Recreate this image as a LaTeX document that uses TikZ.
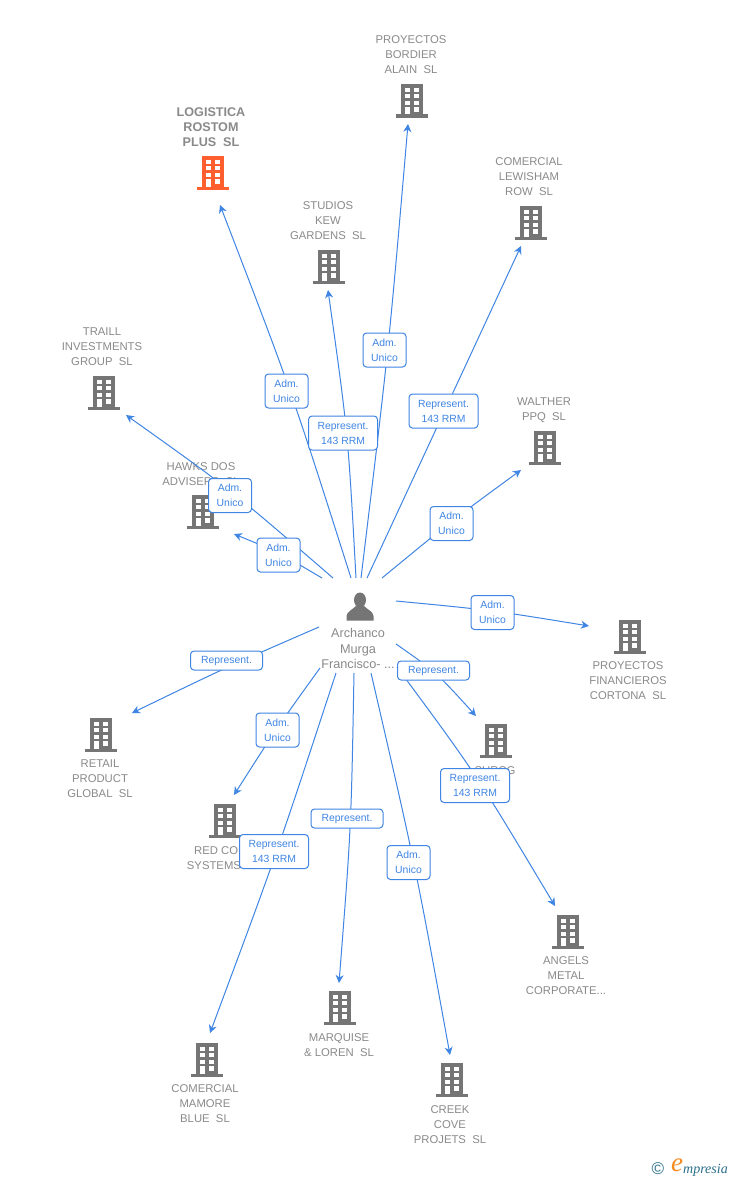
\documentclass[tikz,border=0pt]{standalone}
\usepackage{fontspec}
\setmainfont{Liberation Sans}
\newfontfamily\brandfont{Liberation Serif}
\usetikzlibrary{arrows.meta,calc}
\definecolor{lnk}{HTML}{3F85E3}
\definecolor{gry}{HTML}{757575}
\definecolor{txt}{HTML}{8A8A8A}
\definecolor{org}{HTML}{FF5F2E}
\definecolor{teal}{HTML}{2A6F8A}
\definecolor{brandorg}{HTML}{F58A1F}
\tikzset{
  x=1pt,y=-1pt,
  conn/.style={draw=lnk,line width=1pt,-{Stealth[length=8pt,width=8pt,inset=2.5pt]}},
  tagbox/.style={draw=lnk,line width=1pt,rounded corners=3.5pt,fill=white,text=lnk,font=\fontsize{10.4}{15}\selectfont,align=center,inner sep=0pt},
  tagtwo/.style={tagbox,minimum width=43pt,minimum height=34pt},
  tagrrm/.style={tagbox,minimum width=69pt,minimum height=34pt},
  tagone/.style={tagbox,minimum width=72pt,minimum height=19pt},
  bname/.style={text=txt,font=\fontsize{11.3}{15}\selectfont,align=center,inner sep=0pt},
  pics/bld/.style={code={
    \fill[#1] (-11,16) rectangle (11,-16.7);
    \fill[#1] (-16,13.5) rectangle (16,16.7);
    \foreach \yy/\hh in {-13.3/4,-7/4.3,-0.3/4.3}{
      \fill[white] (-7.5,\yy) rectangle (-2.5,\yy+\hh);
      \fill[white] (2.2,\yy) rectangle (7.2,\yy+\hh);}
    \fill[white] (-7.5,6.3) rectangle (-2.5,13.5);
    \fill[white] (2.2,6.3) rectangle (7.2,10.7);
  }}
}
\newcommand{\conn}[3]{\draw[conn] (#1) .. controls ($($(#1)!.5!(#3)$)!1.333!(#2)$) .. (#3);}
\begin{document}
\begin{tikzpicture}
\useasboundingbox (0,0) rectangle (728,1180);
\fill[white] (0,0) rectangle (728,1180);
% buildings and their names
\pic at (412,101) {bld=gry};
\node[bname] (n1) at (411,55) {PROYECTOS\\BORDIER\\ALAIN\ \ SL};
\pic at (213,173) {bld=org};
\node[bname,font=\fontsize{12.6}{15}\selectfont\bfseries] (n2) at (211,127) {LOGISTICA\\ROSTOM\\PLUS\ \ SL};
\pic at (531,223) {bld=gry};
\node[bname] (n3) at (529,177) {COMERCIAL\\LEWISHAM\\ROW\ \ SL};
\pic at (329,267) {bld=gry};
\node[bname] (n4) at (328,221) {STUDIOS\\KEW\\GARDENS\ \ SL};
\pic at (104,393) {bld=gry};
\node[bname] (n5) at (102,347) {TRAILL\\INVESTMENTS\\GROUP\ \ SL};
\pic at (545,448) {bld=gry};
\node[bname] (n6) at (544,410) {WALTHER\\PPQ\ \ SL};
\pic at (203,512) {bld=gry};
\node[bname] (n7) at (201,474) {HAWKS DOS\\ADVISERS\ \ SL};
\pic at (630,637) {bld=gry};
\node[bname] (n8) at (628,681) {PROYECTOS\\FINANCIEROS\\CORTONA\ \ SL};
\pic at (101,735) {bld=gry};
\node[bname] (n9) at (100,779) {RETAIL\\PRODUCT\\GLOBAL\ \ SL};
\pic at (496,741) {bld=gry};
\node[bname] (n10) at (495,778) {SURCG\\SL};
\pic at (225,821) {bld=gry};
\node[bname] (n11) at (224,858) {RED CORE\\SYSTEMS\ \ SL};
\pic at (568,932) {bld=gry};
\node[bname] (n12) at (566,976) {ANGELS\\METAL\\CORPORATE...};
\pic at (340,1008) {bld=gry};
\node[bname] (n13) at (339,1045) {MARQUISE\\\&\ LOREN\ \ SL};
\pic at (207,1060) {bld=gry};
\node[bname] (n14) at (205,1104) {COMERCIAL\\MAMORE\\BLUE\ \ SL};
\pic at (452,1080) {bld=gry};
\node[bname] (n15) at (450,1125) {CREEK\\COVE\\PROJETS\ \ SL};
% central person
\fill[gry] (360,600) ellipse (6pt and 7.5pt);
\fill[gry] (346.5,620.5) -- (346.5,616) .. controls (347,611.5) and (352,610) .. (356,606) -- (364,606) .. controls (368,610) and (373,611.5) .. (373.5,616) -- (373.5,620.5) -- cycle;
\node[bname,font=\fontsize{12.7}{15.4}\selectfont] (p) at (358,648.5) {Archanco\\Murga\\Francisco- ...};
% connector ends: s start, v point passed, e arrow end, l label centre
\foreach \nm/\xx/\yy in {
 s1/361/578,v1/387.5/351,e1/408/124,l1/384.5/350,
 s2/351/578,v2/290/391,e2/220/205,l2/286.5/391,
 s3/367/578,v3/444/412,e3/521/246,l3/443.5/411,
 s4/356/578,v4/346.5/433,e4/328/290,l4/343/433,
 s5/333/578,v5/230/491,e5/126/415,l5/230/495.5,
 s6/382/578,v6/451/522,e6/521/470,l6/451.5/523.5,
 s7/322/578,v7/278/553,e7/234/534,l7/278.5/555,
 s8/396/601,v8/492/611,e8/589/626,l8/492.5/612.5,
 s9/319/627,v9/226/668,e9/132/713,l9/226.5/660.5,
 s10/396/644,v10/436/674,e10/476/716,l10/433.5/670.5,
 s11/320/668,v11/276/730,e11/234/795,l11/277.5/730,
 s12/397/667,v12/476/777,e12/555/906,l12/475/785.5,
 s13/354/673,v13/350/828,e13/339/983,l13/347/818.5,
 s14/336/673,v14/276/853,e14/210/1033,l14/274/851.5,
 s15/371/673,v15/414/864,e15/450/1055,l15/408.5/862.5}
 {\coordinate (\nm) at (\xx,\yy);}
\foreach \i in {1,...,15}{\conn{s\i}{v\i}{e\i}}
% connector labels
\node[tagtwo] (t1) at (l1) {Adm.\\Unico};
\node[tagtwo] (t2) at (l2) {Adm.\\Unico};
\node[tagrrm] (t3) at (l3) {Represent.\\143 RRM};
\node[tagrrm] (t4) at (l4) {Represent.\\143 RRM};
\node[tagtwo] (t5) at (l5) {Adm.\\Unico};
\node[tagtwo] (t6) at (l6) {Adm.\\Unico};
\node[tagtwo] (t7) at (l7) {Adm.\\Unico};
\node[tagtwo] (t8) at (l8) {Adm.\\Unico};
\node[tagone] (t9) at (l9) {Represent.};
\node[tagone] (t10) at (l10) {Represent.};
\node[tagtwo] (t11) at (l11) {Adm.\\Unico};
\node[tagrrm] (t12) at (l12) {Represent.\\143 RRM};
\node[tagone] (t13) at (l13) {Represent.};
\node[tagrrm] (t14) at (l14) {Represent.\\143 RRM};
\node[tagtwo] (t15) at (l15) {Adm.\\Unico};
% credit
\node[text=teal,font=\fontsize{17}{17}\selectfont,inner sep=0pt] (c) at (658,1169) {©};
\node[text=brandorg,font=\brandfont\fontsize{27}{27}\selectfont\itshape,inner sep=0pt] (e) at (677,1165) {e};
\node[text=teal,font=\brandfont\fontsize{14}{14}\selectfont\itshape,inner sep=0pt,anchor=west] (m) at (683,1170) {mpresia};
\end{tikzpicture}
\end{document}
